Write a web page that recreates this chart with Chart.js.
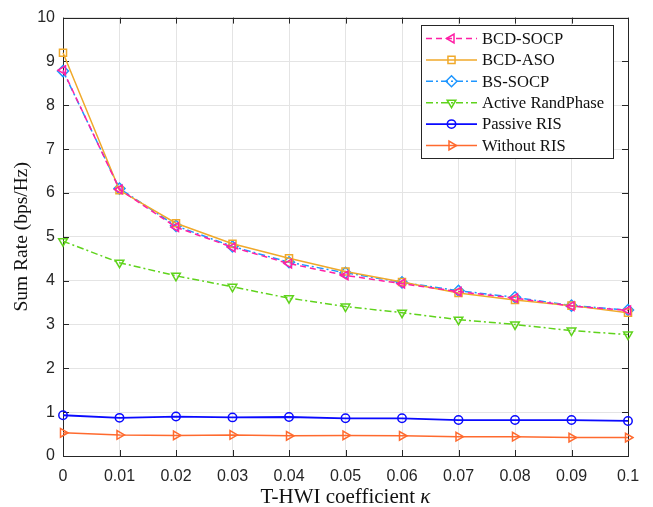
<!DOCTYPE html>
<html>
<head>
<meta charset="utf-8">
<script src="https://cdn.jsdelivr.net/npm/chart.js@4.4.1/dist/chart.umd.min.js"></script>
<style>
  html, body { margin: 0; padding: 0; background: #fff; }
  #wrap { width: 653px; height: 507px; }
</style>
</head>
<body>
<div id="wrap"><canvas id="rateChart"></canvas></div>
<script>
// T-HWI coefficient (kappa) values on the x axis
const kappaLabels = ['0', '0.01', '0.02', '0.03', '0.04', '0.05', '0.06', '0.07', '0.08', '0.09', '0.1'];

// Sum rate (bps/Hz) per scheme
const bcdSocp    = [8.80, 6.08, 5.22, 4.76, 4.39, 4.12, 3.93, 3.75, 3.60, 3.42, 3.32];
const bcdAso     = [9.20, 6.06, 5.31, 4.84, 4.51, 4.21, 3.97, 3.72, 3.56, 3.43, 3.27];
const bsSocp     = [8.78, 6.10, 5.25, 4.78, 4.42, 4.18, 3.96, 3.77, 3.62, 3.43, 3.33];
const activeRand = [4.90, 4.41, 4.11, 3.86, 3.60, 3.41, 3.27, 3.11, 3.00, 2.86, 2.77];
const passiveRis = [0.93, 0.87, 0.90, 0.88, 0.89, 0.86, 0.86, 0.82, 0.82, 0.82, 0.80];
const withoutRis = [0.53, 0.48, 0.47, 0.48, 0.46, 0.47, 0.46, 0.44, 0.44, 0.42, 0.42];

const seriesNames = ['BCD-SOCP', 'BCD-ASO', 'BS-SOCP', 'Active RandPhase', 'Passive RIS', 'Without RIS'];

const SERIF = '"Liberation Serif", "Times New Roman", serif';
const SANS = '"Liberation Sans", Arial, sans-serif';
const AXIS_COLOR = '#262626';

function makeSeries(label, data, color, opts) {
  return Object.assign({
    label: label,
    data: data,
    borderColor: color,
    pointBorderColor: color,
    pointBackgroundColor: 'rgba(0,0,0,0)',
    borderWidth: 1.5,
    pointBorderWidth: 1.5,
    pointRadius: 4.5,
    pointHoverRadius: 4.5,
    tension: 0,
    fill: false
  }, opts);
}

// Inward tick marks on all four sides plus the surrounding box
const boxTicksPlugin = {
  id: 'boxTicks',
  beforeDatasetsDraw(chart) {
    const ctx = chart.ctx;
    const area = chart.chartArea;
    const xs = chart.scales.x;
    const ys = chart.scales.y;
    const len = 6;
    ctx.save();
    ctx.strokeStyle = AXIS_COLOR;
    ctx.lineWidth = 1;
    ctx.beginPath();
    xs.ticks.forEach((t, i) => {
      const px = Math.round(xs.getPixelForTick(i)) + 0.5;
      ctx.moveTo(px, area.bottom); ctx.lineTo(px, area.bottom - len);
      ctx.moveTo(px, area.top); ctx.lineTo(px, area.top + len);
    });
    ys.ticks.forEach((t, i) => {
      const py = Math.round(ys.getPixelForTick(i)) + 0.5;
      ctx.moveTo(area.left, py); ctx.lineTo(area.left + len, py);
      ctx.moveTo(area.right, py); ctx.lineTo(area.right - len, py);
    });
    ctx.stroke();
    ctx.strokeRect(Math.round(area.left) + 0.5, Math.round(area.top) + 0.5,
      Math.round(area.right - area.left), Math.round(area.bottom - area.top));
    ctx.restore();
  }
};

// Boxed legend with line sample and marker for each series, plus x-axis title
const legendPlugin = {
  id: 'lineLegend',
  afterDraw(chart) {
    const ctx = chart.ctx;
    const area = chart.chartArea;
    const boxL = 421, boxT = 25, boxW = 192, boxH = 133;
    const rowH = 21.4, firstRow = 38.5;
    ctx.save();
    ctx.fillStyle = '#fff';
    ctx.fillRect(boxL, boxT, boxW, boxH);
    ctx.strokeStyle = AXIS_COLOR;
    ctx.lineWidth = 1;
    ctx.strokeRect(boxL + 0.5, boxT + 0.5, boxW, boxH);

    chart.data.datasets.forEach((ds, i) => {
      const y = firstRow + i * rowH;
      ctx.save();
      ctx.strokeStyle = ds.borderColor;
      ctx.lineWidth = ds.borderWidth;
      ctx.setLineDash(ds.borderDash || []);
      ctx.beginPath();
      ctx.moveTo(426, y);
      ctx.lineTo(477, y);
      ctx.stroke();
      ctx.setLineDash([]);
      ctx.fillStyle = 'rgba(0,0,0,0)';
      ctx.lineWidth = ds.pointBorderWidth;
      Chart.helpers.drawPoint(ctx, {
        pointStyle: ds.pointStyle,
        rotation: ds.pointRotation || 0,
        radius: ds.pointRadius,
        borderWidth: ds.pointBorderWidth
      }, 451.5, y);
      ctx.restore();

      ctx.fillStyle = '#111';
      ctx.font = '16.6px ' + SERIF;
      ctx.textAlign = 'left';
      ctx.textBaseline = 'middle';
      ctx.fillText(ds.label, 482, y + 1);
    });

    // x-axis title with italic kappa
    const main = 'T-HWI coefficient ';
    const sym = 'κ';
    ctx.fillStyle = '#111';
    ctx.textBaseline = 'alphabetic';
    ctx.textAlign = 'left';
    ctx.font = '21px ' + SERIF;
    const w1 = ctx.measureText(main).width;
    ctx.font = 'italic 21px ' + SERIF;
    const w2 = ctx.measureText(sym).width;
    const cx = (area.left + area.right) / 2;
    const x0 = cx - (w1 + w2) / 2;
    ctx.font = '21px ' + SERIF;
    ctx.fillText(main, x0, 503);
    ctx.font = 'italic 21px ' + SERIF;
    ctx.fillText(sym, x0 + w1, 503);
    ctx.restore();
  }
};

new Chart(document.getElementById('rateChart'), {
  type: 'line',
  data: {
    labels: kappaLabels,
    datasets: [
      makeSeries(seriesNames[0], bcdSocp, '#ff1fa5', {
        borderDash: [6, 4], pointStyle: 'triangle', pointRotation: -90, pointRadius: 5
      }),
      makeSeries(seriesNames[1], bcdAso, '#f0a92a', {
        pointStyle: 'rect', pointRadius: 5
      }),
      makeSeries(seriesNames[2], bsSocp, '#1e96ff', {
        borderDash: [7, 3, 2, 3], pointStyle: 'rectRot', pointRadius: 5.5
      }),
      makeSeries(seriesNames[3], activeRand, '#5fd31c', {
        borderDash: [7, 3, 2, 3], pointStyle: 'triangle', pointRotation: 180, pointRadius: 5
      }),
      makeSeries(seriesNames[4], passiveRis, '#0a0aff', {
        pointStyle: 'circle', pointRadius: 4.2, borderWidth: 1.8
      }),
      makeSeries(seriesNames[5], withoutRis, '#ff6a2e', {
        pointStyle: 'triangle', pointRotation: 90, pointRadius: 5
      })
    ]
  },
  options: {
    responsive: true,
    maintainAspectRatio: false,
    animation: false,
    layout: { padding: { left: 0, right: 25, top: 13, bottom: 0 } },
    plugins: {
      legend: { display: false },
      tooltip: { enabled: false }
    },
    scales: {
      x: {
        type: 'category',
        offset: false,
        grid: { color: '#e4e4e4', lineWidth: 1, drawTicks: false },
        border: { display: false },
        ticks: {
          color: AXIS_COLOR,
          font: { family: SANS, size: 16 },
          padding: 11,
          maxRotation: 0,
          autoSkip: false
        },
        afterFit(scale) { scale.height = 51; }
      },
      y: {
        min: 0,
        max: 10,
        grid: { color: '#e4e4e4', lineWidth: 1, drawTicks: false },
        border: { display: false },
        ticks: {
          stepSize: 1,
          color: AXIS_COLOR,
          font: { family: SANS, size: 16 },
          padding: 8
        },
        title: {
          display: true,
          text: 'Sum Rate (bps/Hz)',
          color: '#111',
          font: { family: SERIF, size: 19.5 },
          padding: { top: 10, bottom: 0 }
        },
        afterFit(scale) { scale.width = 63; }
      }
    }
  },
  plugins: [boxTicksPlugin, legendPlugin]
});
</script>
</body>
</html>
